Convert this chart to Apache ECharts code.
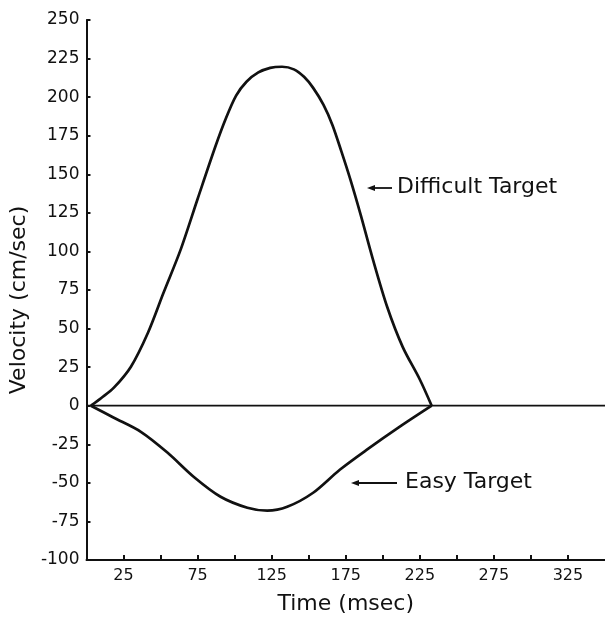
<!DOCTYPE html>
<html><head><meta charset="utf-8">
<script src="https://cdn.jsdelivr.net/npm/echarts@6/dist/echarts.min.js"></script>
<style>html,body{margin:0;padding:0;background:#fff}#c{width:605px;height:624px}</style>
</head><body><div id="c"></div>
<script>
// ---- data ----
const difficultTime = [3, 10, 18.5, 30, 41.5, 52, 63.5, 75, 87, 94, 101, 108, 116, 124, 132, 140, 147, 153, 160, 166, 172, 178, 185, 193, 203, 213.5, 225, 233];
const difficultVel  = [0, 5, 11.7, 25.3, 47.3, 73.2, 101, 134, 168, 186, 201, 210, 216, 219, 219.7, 218, 213, 206, 195, 182, 165, 147, 124, 96, 64, 38, 17, 0];
const easyTime = [3, 18.5, 36.7, 54.8, 72.3, 90.5, 108.6, 122, 135.5, 153, 171, 189.3, 211.5, 233];
const easyVel  = [0, -7.8, -16.9, -30.5, -46, -59, -66.1, -68, -65.5, -56.4, -41.5, -28.5, -13.6, 0];
const baselineTime = [0, 350];
const baselineVel  = [0, 0];
const xTicks = [25, 50, 75, 100, 125, 150, 175, 200, 225, 250, 275, 300, 325];
const xTickLabels = [25, 75, 125, 175, 225, 275, 325];
const yTicks = [-100, -75, -50, -25, 0, 25, 50, 75, 100, 125, 150, 175, 200, 225, 250];
const seriesNames = ['Difficult Target', 'Easy Target'];

const zip = (a, b) => a.map((v, i) => [v, b[i]]);
const ink = '#111';
const font = 'DejaVu Sans';

const chart = echarts.init(document.getElementById('c'), null, {renderer: 'canvas'});
chart.setOption({
  animation: false,
  backgroundColor: '#fff',
  grid: {left: 86, right: 0, top: 20, bottom: 64, containLabel: false},
  xAxis: {
    type: 'value', min: 0, max: 350, interval: 25,
    name: 'Time (msec)', nameLocation: 'middle', nameGap: 33,
    nameTextStyle: {fontFamily: font, fontSize: 22, color: ink},
    axisLine: {onZero: false, lineStyle: {color: ink, width: 2}},
    axisTick: {inside: true, length: 5, customValues: xTicks, lineStyle: {color: ink, width: 2}},
    axisLabel: {customValues: xTickLabels, fontFamily: font, fontSize: 16, color: ink, margin: 8},
    splitLine: {show: false}
  },
  yAxis: {
    type: 'value', min: -100, max: 250, interval: 25,
    name: 'Velocity (cm/sec)', nameLocation: 'middle', nameGap: 53, nameRotate: 90,
    nameTextStyle: {fontFamily: font, fontSize: 22, color: ink, padding: [0, 20, 0, 0]},
    axisLine: {onZero: false, lineStyle: {color: ink, width: 2}},
    axisTick: {inside: true, length: 4, customValues: yTicks, lineStyle: {color: ink, width: 2}},
    axisLabel: {fontFamily: font, fontSize: 17, color: ink, margin: 7},
    splitLine: {show: false}
  },
  series: [
    {type: 'line', name: 'baseline', data: zip(baselineTime, baselineVel), symbol: 'none',
     lineStyle: {color: ink, width: 1.8}, silent: true},
    {type: 'line', name: seriesNames[0], data: zip(difficultTime, difficultVel), symbol: 'none', smooth: 0.3,
     lineStyle: {color: ink, width: 2.7}},
    {type: 'line', name: seriesNames[1], data: zip(easyTime, easyVel), symbol: 'none', smooth: 0.3,
     lineStyle: {color: ink, width: 2.7}}
  ],
  graphic: [
    {type: 'line', shape: {x1: 372, y1: 188, x2: 392, y2: 188}, style: {stroke: ink, lineWidth: 1.8}},
    {type: 'polygon', shape: {points: [[367, 188], [375, 185], [375, 191]]}, style: {fill: ink}},
    {type: 'text', left: 397, top: 176, style: {text: seriesNames[0], font: '22px "DejaVu Sans"', fill: ink}},
    {type: 'line', shape: {x1: 356, y1: 483, x2: 397, y2: 483}, style: {stroke: ink, lineWidth: 1.8}},
    {type: 'polygon', shape: {points: [[351, 483], [359, 480], [359, 486]]}, style: {fill: ink}},
    {type: 'text', left: 405, top: 471, style: {text: seriesNames[1], font: '22px "DejaVu Sans"', fill: ink}}
  ]
});
</script></body></html>
